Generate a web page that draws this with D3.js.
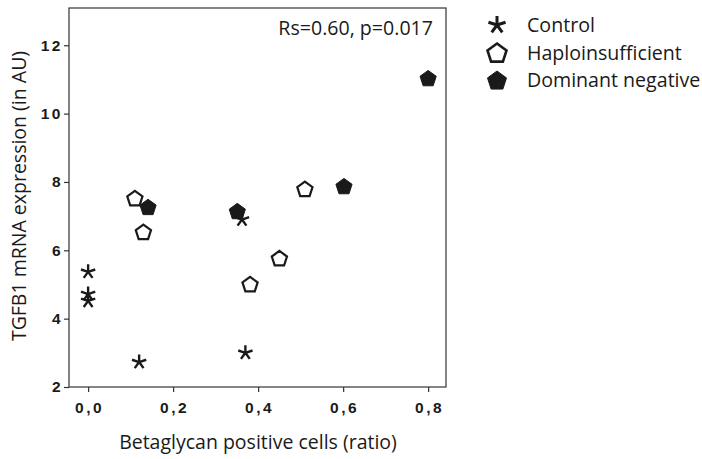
<!DOCTYPE html>
<html>
<head>
<meta charset="utf-8">
<style>
body { margin:0; background:#fff; }
</style>
</head>
<body>
<script src="https://cdn.jsdelivr.net/npm/d3@7/dist/d3.min.js"></script>
<svg width="702" height="459"></svg>
<script>
// values
const controlX = [0.0, 0.0, 0.0, 0.12, 0.37, 0.362]
const controlY = [5.37, 4.72, 4.52, 2.73, 3.0, 6.9]
const haploX = [0.11, 0.13, 0.51, 0.45, 0.381]
const haploY = [7.53, 6.54, 7.8, 5.77, 5.01]
const domX = [0.8, 0.141, 0.351, 0.602]
const domY = [11.04, 7.27, 7.15, 7.88]
const xTicks = [0, 0.2, 0.4, 0.6, 0.8]
const yTicks = [2, 4, 6, 8, 10, 12]
const groups = ["Control", "Haploinsufficient", "Dominant negative"]

const ink = "#1a1a1a"
const svg = d3.select("svg")
const plotL = 69, plotR = 446, plotT = 8, plotB = 387

const xScale = d3.scaleLinear().domain([-0.045, 0.842]).range([plotL, plotR])
const yScale = d3.scaleLinear().domain([2, 13.09]).range([plotB, plotT])

// frame
svg.append("rect")
    .attr("x", plotL).attr("y", plotT)
    .attr("width", plotR - plotL).attr("height", plotB - plotT)
    .attr("fill", "none").attr("stroke", "#333").attr("stroke-width", 1.2)

const xAxis = d3.axisBottom(xScale).tickValues(xTicks).tickSize(5).tickSizeOuter(0)
    .tickFormat(d => d3.format(".1f")(d).replace(".", ","))
const xg = svg.append("g").attr("transform", `translate(0,${plotB})`).call(xAxis)
const yAxis = d3.axisLeft(yScale).tickValues(yTicks).tickSize(5).tickSizeOuter(0)
const yg = svg.append("g").attr("transform", `translate(${plotL},0)`).call(yAxis)

for (const g of [xg, yg]) {
    g.select("path.domain").remove()
    g.selectAll("line").attr("stroke", "#333").attr("stroke-width", 1.2)
    g.selectAll("text")
        .attr("fill", ink)
        .style("font-family", "Liberation Sans, Arial, sans-serif")
        .style("font-weight", "bold")
        .style("font-size", "15.5px")
        .style("letter-spacing", "2.5px")
}
xg.selectAll("text").attr("y", 15).attr("dx", "1px")
yg.selectAll("text").attr("x", -6)

// marker shapes
function pentagon(r) {
    const pts = d3.range(5).map(i => {
        const a = -Math.PI / 2 + i * 2 * Math.PI / 5
        return [r * Math.cos(a), r * Math.sin(a) + r * 0.1]
    })
    return "M" + pts.join("L") + "Z"
}
function asterisk(r) {
    return d3.range(5).map(i => {
        const a = -Math.PI / 2 + i * 2 * Math.PI / 5
        return `M0,0L${r * Math.cos(a)},${r * Math.sin(a)}`
    }).join("")
}

const plot = svg.append("g")
plot.selectAll("path.haplo")
    .data(d3.zip(haploX, haploY))
    .enter().append("path")
    .attr("class", "haplo")
    .attr("d", pentagon(8))
    .attr("transform", d => `translate(${xScale(d[0])},${yScale(d[1])})`)
    .attr("fill", "#fff").attr("stroke", ink).attr("stroke-width", 2.2)
plot.selectAll("path.dom")
    .data(d3.zip(domX, domY))
    .enter().append("path")
    .attr("class", "dom")
    .attr("d", pentagon(8.5))
    .attr("transform", d => `translate(${xScale(d[0])},${yScale(d[1])})`)
    .attr("fill", ink).attr("stroke", ink).attr("stroke-width", 1)
plot.selectAll("path.control")
    .data(d3.zip(controlX, controlY))
    .enter().append("path")
    .attr("class", "control")
    .attr("d", asterisk(7.5))
    .attr("transform", d => `translate(${xScale(d[0])},${yScale(d[1])})`)
    .attr("fill", "none").attr("stroke", ink).attr("stroke-width", 2.4)

const textFont = "Open Sans, sans-serif"
svg.append("text")
    .attr("x", 433).attr("y", 35)
    .attr("text-anchor", "end")
    .style("font-family", textFont).style("font-size", "19.6px")
    .attr("fill", ink)
    .text("Rs=0.60, p=0.017")

svg.append("text")
    .attr("x", 258).attr("y", 449)
    .attr("text-anchor", "middle")
    .style("font-family", textFont).style("font-size", "19.5px")
    .attr("fill", ink)
    .text("Betaglycan positive cells (ratio)")

svg.append("text")
    .attr("transform", "translate(26,196) rotate(-90)")
    .attr("text-anchor", "middle")
    .style("font-family", textFont).style("font-size", "19.5px")
    .attr("fill", ink)
    .text("TGFB1 mRNA expression (in AU)")

// legend
const legend = svg.append("g").attr("transform", "translate(497,0)")
const rows = legend.selectAll("g").data(groups).enter().append("g")
    .attr("transform", (d, i) => `translate(0,${25 + i * 27.5})`)
rows.append("path")
    .attr("d", (d, i) => i == 0 ? asterisk(9) : pentagon(10))
    .attr("fill", (d, i) => i == 0 ? "none" : i == 1 ? "#fff" : ink)
    .attr("stroke", ink)
    .attr("stroke-width", (d, i) => i == 0 ? 3 : i == 1 ? 2.6 : 1)
rows.append("text")
    .attr("x", 30).attr("y", 7)
    .style("font-family", textFont).style("font-size", "19.6px")
    .attr("fill", ink)
    .text(d => d)
</script>
</body>
</html>
